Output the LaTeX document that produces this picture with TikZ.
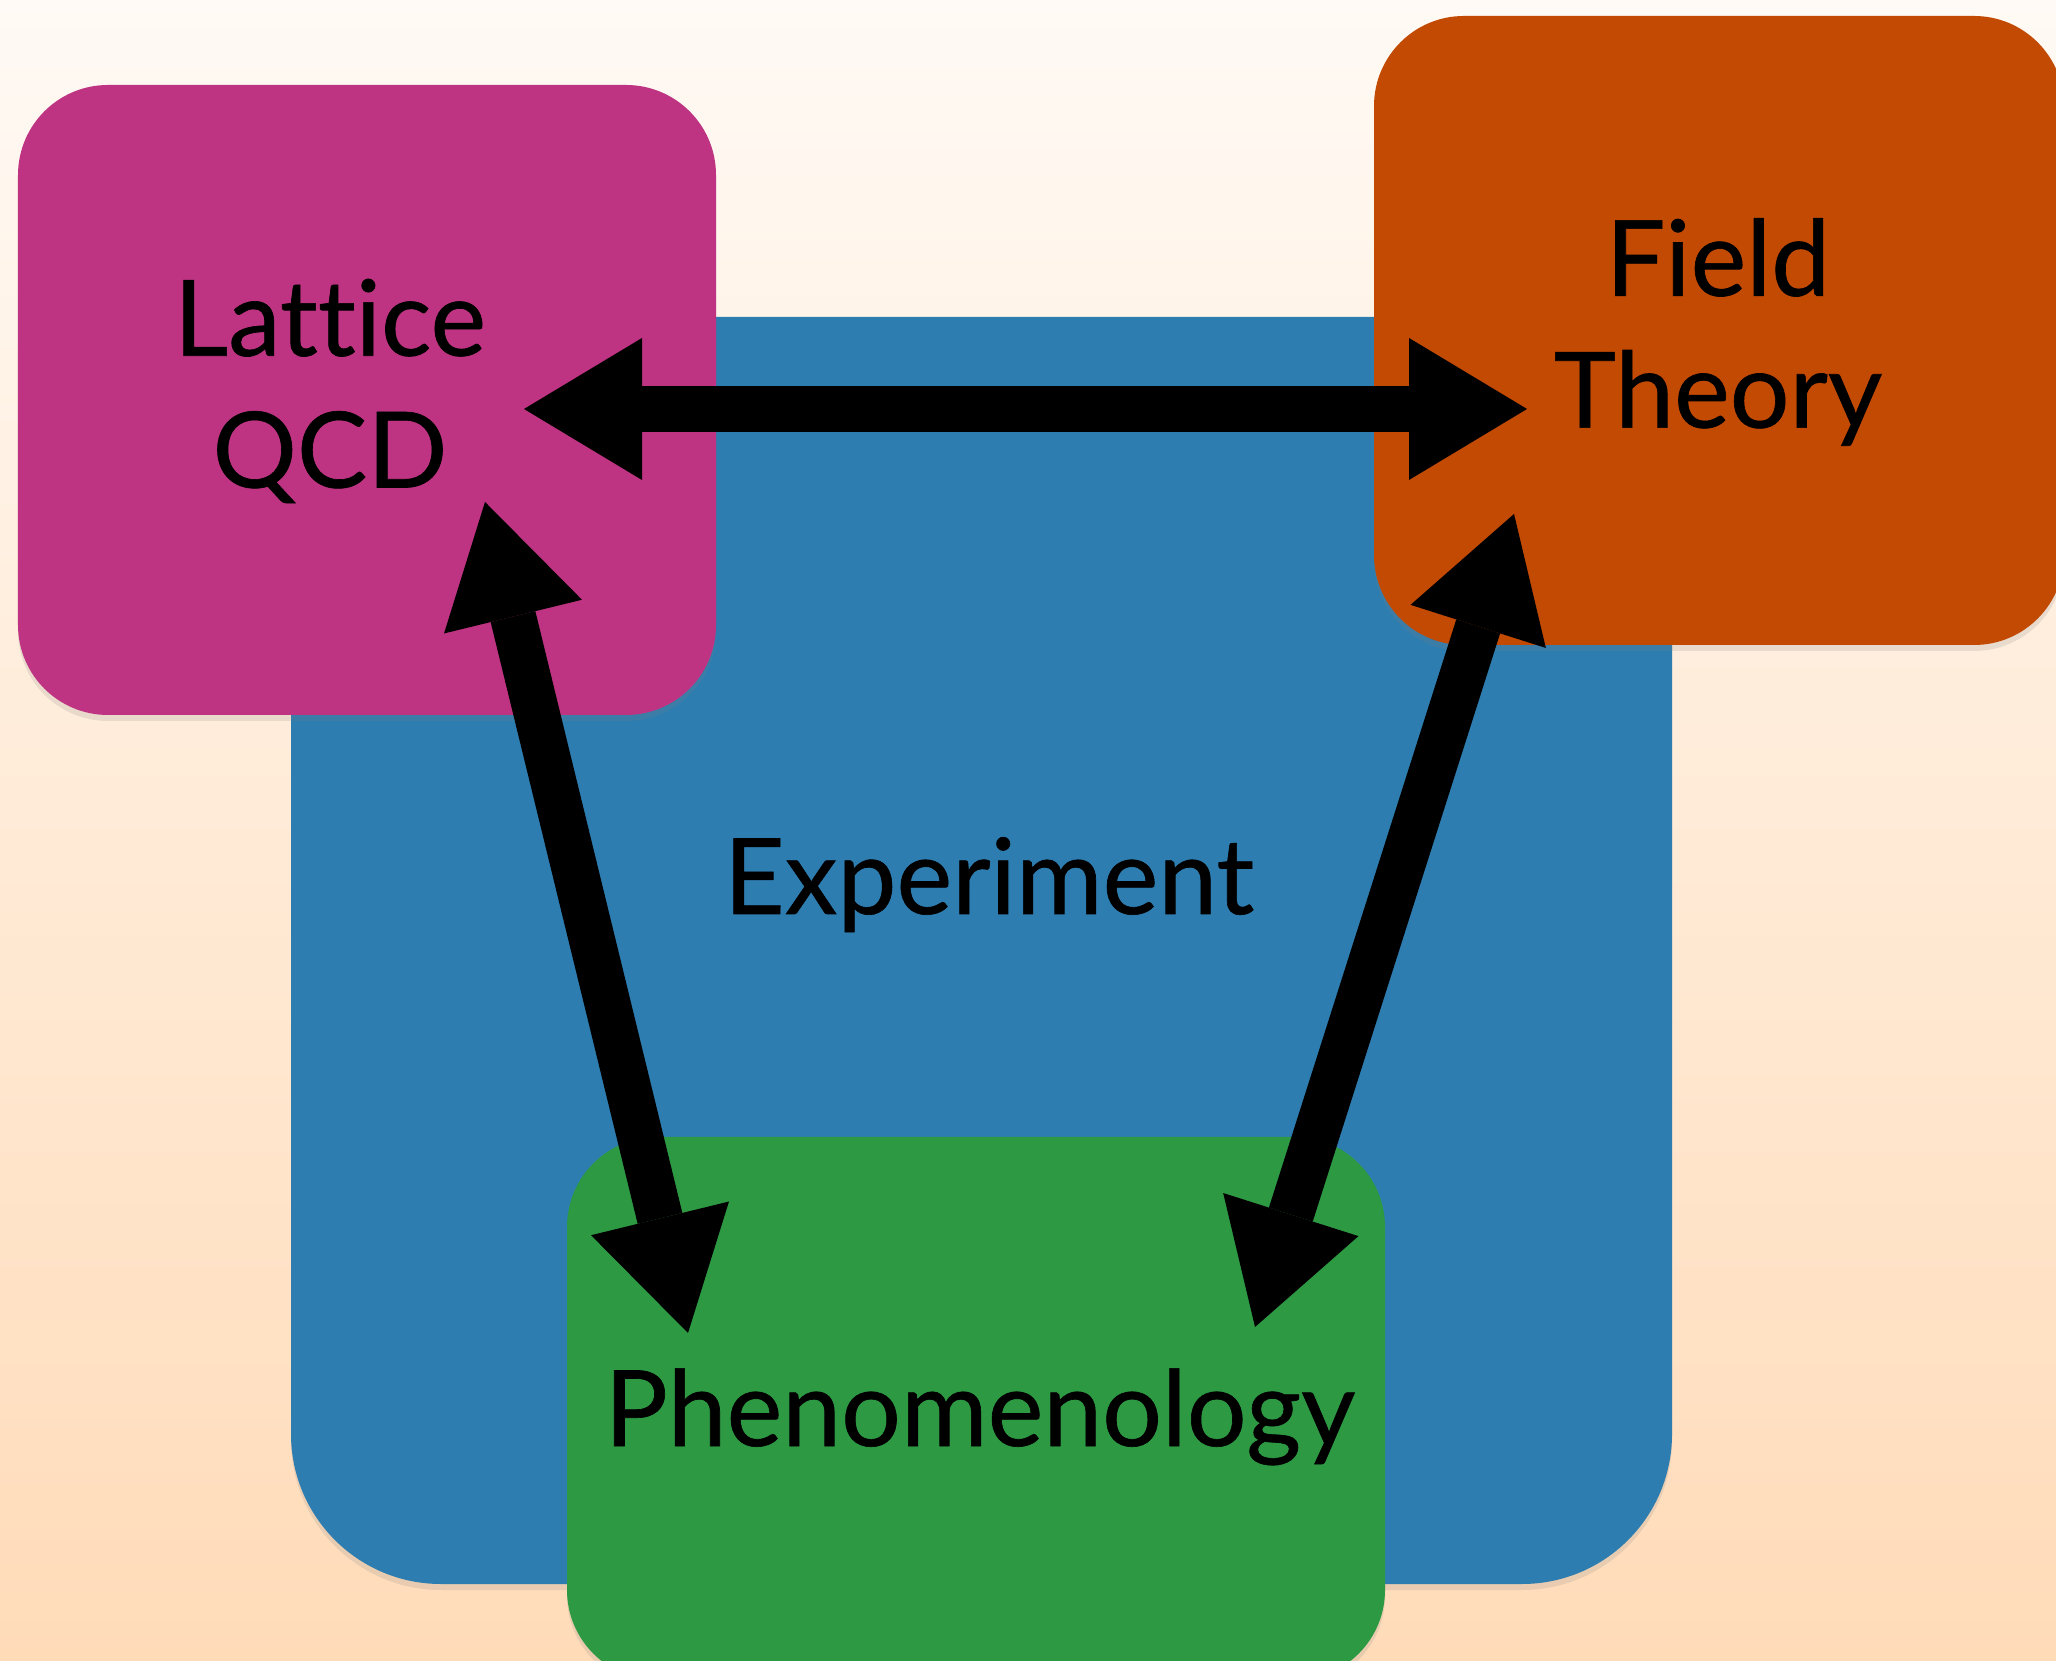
\documentclass[tikz,border=0pt]{standalone}
\usepackage{fontspec}
\setmainfont{Lato}[Ligatures=NoCommon, FakeBold=0.6]
\usetikzlibrary{arrows.meta,shadows}
\definecolor{bgtop}{HTML}{FFFAF5}
\definecolor{bgbot}{HTML}{FFDBB8}
\definecolor{latcol}{HTML}{BE3482}
\definecolor{ftcol}{HTML}{C24A03}
\definecolor{expcol}{HTML}{2E7DB0}
\definecolor{phencol}{HTML}{2D9A43}

\begin{document}
\begin{tikzpicture}[
    card/.style={rounded corners=9mm, drop shadow={shadow xshift=0mm, shadow yshift=-0.6mm, opacity=0.18}},
    lbl/.style={font=\fontsize{30}{37.5}\selectfont, align=center, inner sep=0pt},
    twoway/.style={line width=4.6mm, {Triangle[length=11.8mm, width=14.2mm, line width=0pt]}-{Triangle[length=11.8mm, width=14.2mm, line width=0pt]}}
  ]
  \clip (0,0) rectangle (20.56,16.6);
  \shade[top color=bgtop, bottom color=bgbot] (0,0) rectangle (20.56,16.6);

  % the four boxes
  \fill[expcol, card, rounded corners=15mm] (2.91,0.76) rectangle (16.72,13.43);
  \fill[latcol, card] (0.18,9.45) rectangle (7.16,15.75);
  \fill[ftcol, card] (13.74,10.15) rectangle (20.64,16.44);
  \fill[phencol, card] (5.67,-0.2) rectangle (13.85,5.23);

  % labels
  \node[lbl] (lqcd) at (3.30,12.69) {Lattice\\QCD};
  \node[lbl] (ft) at (17.18,13.28) {Field\\Theory};
  \node[lbl, anchor=base] (exp) at (9.89,7.46) {Experiment};
  \node[lbl, anchor=base] (phen) at (9.80,2.14) {Phenomenology};

  % arrow ends
  \coordinate (lqcdE) at (5.24,12.51);
  \coordinate (ftW) at (15.27,12.51);
  \coordinate (lqcdS) at (4.85,11.58);
  \coordinate (phenNW) at (6.88,3.27);
  \coordinate (ftS) at (15.14,11.46);
  \coordinate (phenNE) at (12.55,3.33);

  \draw[twoway] (lqcdE) -- (ftW);
  \draw[twoway] (lqcdS) -- (phenNW);
  \draw[twoway] (ftS) -- (phenNE);
\end{tikzpicture}
\end{document}
